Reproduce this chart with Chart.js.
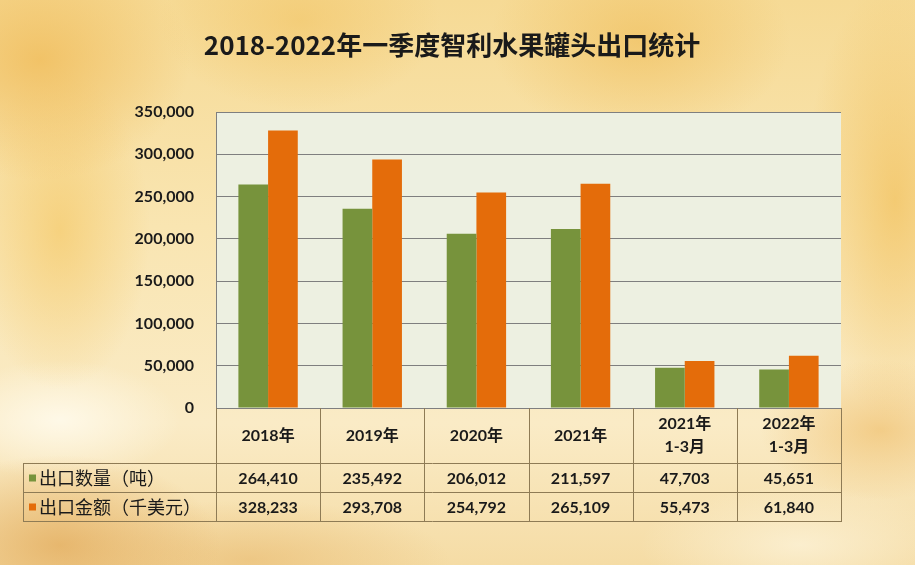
<!DOCTYPE html>
<html>
<head>
<meta charset="utf-8">
<script src="https://cdn.jsdelivr.net/npm/chart.js@4"></script>
<style>
html,body{margin:0;padding:0;width:915px;height:565px;overflow:hidden;}
body{
  background:
    radial-gradient(ellipse 160px 90px at 60px 545px, rgba(226,170,90,0.75), rgba(226,170,90,0) 100%),
    radial-gradient(ellipse 200px 60px at 250px 560px, rgba(232,185,110,0.6), rgba(232,185,110,0) 100%),
    radial-gradient(ellipse 120px 70px at 880px 430px, rgba(238,185,95,0.6), rgba(238,185,95,0) 100%),
    radial-gradient(ellipse 150px 120px at 40px 60px, rgba(240,188,90,0.8), rgba(240,188,90,0) 100%),
    radial-gradient(ellipse 140px 90px at 300px 20px, rgba(242,198,105,0.65), rgba(242,198,105,0) 100%),
    radial-gradient(ellipse 150px 100px at 640px 40px, rgba(240,192,95,0.7), rgba(240,192,95,0) 100%),
    radial-gradient(ellipse 90px 220px at 895px 200px, rgba(242,194,95,0.75), rgba(242,194,95,0) 100%),
    radial-gradient(ellipse 90px 160px at 60px 230px, rgba(245,203,110,0.75), rgba(245,203,110,0) 100%),
    radial-gradient(ellipse 120px 60px at 60px 420px, rgba(255,250,235,0.9), rgba(255,250,235,0) 100%),
    radial-gradient(ellipse 160px 60px at 800px 545px, rgba(252,242,215,0.8), rgba(252,242,215,0) 100%),
    linear-gradient(180deg, #F6DA95 0%, #F9E5B1 40%, #FAEBC6 75%, #F5DCA5 100%);
}
canvas{display:block;}
</style>
</head>
<body>
<canvas id="c" width="915" height="565"></canvas>
<script>
const title = '2018-2022年一季度智利水果罐头出口统计';
const categories = ['2018年', '2019年', '2020年', '2021年', ['2021年', '1-3月'], ['2022年', '1-3月']];
const seriesNames = ['出口数量（吨）', '出口金额（千美元）'];
const quantity = [264410, 235492, 206012, 211597, 47703, 45651];
const amount = [328233, 293708, 254792, 265109, 55473, 61840];
const seriesColors = ['#77933C', '#E46C0A'];
const yMax = 350000;
const yStep = 50000;

const fmt = v => Number(v).toLocaleString('en-US');
const numFont = 'bold 16px Lato, "Noto Sans CJK SC", sans-serif';
const lineColor = '#8E7B55';
const textColor = '#1A1A1A';

const plotBg = {
  id: 'plotBg',
  beforeDraw(chart) {
    const {ctx, chartArea: a} = chart;
    ctx.save();
    ctx.fillStyle = '#EDF0E1';
    ctx.fillRect(a.left, a.top, a.right - a.left, a.bottom - a.top);
    ctx.restore();
  }
};

const titleAndTable = {
  id: 'titleAndTable',
  afterDraw(chart) {
    const {ctx, chartArea: a} = chart;
    const xs = chart.scales.x;
    const n = categories.length;
    const half = (a.right - a.left) / n / 2;
    ctx.save();
    // title
    ctx.fillStyle = textColor;
    ctx.font = 'bold 26px "Noto Sans CJK SC", sans-serif';
    ctx.textAlign = 'center';
    ctx.textBaseline = 'middle';
    ctx.fillText(title, 452, 45);

    const tableLeft = 23;
    const hdrBottom = a.bottom + 55;
    const rowH = 29;
    const rowsBottom = hdrBottom + rowH * 2;

    // lines
    ctx.strokeStyle = lineColor;
    ctx.lineWidth = 1;
    ctx.beginPath();
    for (let i = 0; i <= n; i++) {
      const x = Math.round((i < n ? xs.getPixelForValue(i) - half : xs.getPixelForValue(n - 1) + half)) + 0.5;
      ctx.moveTo(x, a.bottom);
      ctx.lineTo(x, rowsBottom);
    }
    ctx.moveTo(tableLeft + 0.5, hdrBottom);
    ctx.lineTo(tableLeft + 0.5, rowsBottom);
    for (let r = 0; r <= 2; r++) {
      const y = hdrBottom + r * rowH + 0.5;
      ctx.moveTo(tableLeft, y);
      ctx.lineTo(a.right + 1, y);
    }
    ctx.stroke();

    // header labels
    ctx.fillStyle = textColor;
    ctx.font = numFont;
    ctx.textAlign = 'center';
    for (let i = 0; i < n; i++) {
      const x = xs.getPixelForValue(i);
      const lab = categories[i];
      if (Array.isArray(lab)) {
        ctx.fillText(lab[0], x, a.bottom + 16);
        ctx.fillText(lab[1], x, a.bottom + 39);
      } else {
        ctx.fillText(lab, x, a.bottom + 28);
      }
    }
    // values
    const series = [quantity, amount];
    series.forEach((arr, r) => {
      const yc = hdrBottom + r * rowH + rowH / 2 + 1;
      arr.forEach((v, i) => {
        ctx.font = numFont;
        ctx.textAlign = 'center';
        ctx.fillStyle = textColor;
        ctx.fillText(fmt(v), xs.getPixelForValue(i), yc);
      });
      // legend key
      ctx.fillStyle = seriesColors[r];
      ctx.fillRect(29, yc - 4, 7, 7);
      ctx.fillStyle = textColor;
      ctx.font = '18px "Noto Sans CJK SC", sans-serif';
      ctx.textAlign = 'left';
      ctx.fillText(seriesNames[r], 39, yc);
    });
    ctx.restore();
  }
};

new Chart(document.getElementById('c'), {
  type: 'bar',
  data: {
    labels: categories,
    datasets: [
      {label: seriesNames[0], data: quantity, backgroundColor: seriesColors[0], borderWidth: 0},
      {label: seriesNames[1], data: amount, backgroundColor: seriesColors[1], borderWidth: 0}
    ]
  },
  options: {
    responsive: false,
    animation: false,
    devicePixelRatio: 1,
    layout: {padding: {left: 0, top: 112, right: 74, bottom: 157}},
    datasets: {bar: {categoryPercentage: 0.57, barPercentage: 1.0}},
    plugins: {legend: {display: false}, tooltip: {enabled: false}, title: {display: false}},
    scales: {
      x: {display: false, offset: true},
      y: {
        min: 0, max: yMax,
        afterFit(s) { s.width = 216; },
        ticks: {
          stepSize: yStep,
          padding: 22,
          color: textColor,
          font: {family: 'Lato, sans-serif', weight: 'bold', size: 16},
          callback: v => fmt(v)
        },
        grid: {color: '#7F7F7F', drawTicks: false, lineWidth: 1},
        border: {display: true, color: '#7F7F7F', width: 1}
      }
    }
  },
  plugins: [plotBg, titleAndTable]
});
</script>
</body>
</html>
